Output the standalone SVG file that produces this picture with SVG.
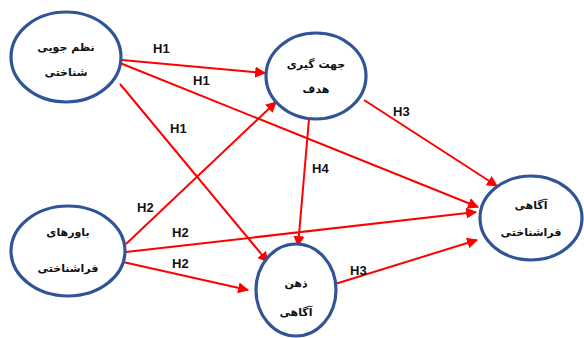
<svg xmlns="http://www.w3.org/2000/svg" width="584" height="338" viewBox="0 0 584 338">
<style>
.node{fill:#fff;stroke:#2f5597;stroke-width:3.2}
.t{font-family:"DejaVu Sans",sans-serif;font-size:11px;font-weight:bold;fill:#111;text-anchor:middle;direction:rtl}
.c{stroke:#ff0000;stroke-width:2;fill:none;marker-end:url(#ah)}
.lb{font-family:"Liberation Sans",Arial,sans-serif;font-size:13px;font-weight:bold;fill:#111}
</style>
<defs>
<marker id="ah" viewBox="0 0 10 10" refX="9" refY="5" markerWidth="5.5" markerHeight="5.5" orient="auto" markerUnits="strokeWidth">
<path d="M0,0 L10,5 L0,10 z" fill="#ff0000"/>
</marker>
</defs>
<rect width="584" height="338" fill="#fff"/>
<g id="connectors">
<line class="c" x1="122" y1="60" x2="265" y2="73"/>
<line class="c" x1="120" y1="63" x2="478" y2="207"/>
<line class="c" x1="120" y1="84" x2="268" y2="262"/>
<line class="c" x1="126" y1="244" x2="276" y2="102"/>
<line class="c" x1="126" y1="252" x2="476" y2="212"/>
<line class="c" x1="123" y1="262" x2="248" y2="290"/>
<line class="c" x1="364" y1="100" x2="497" y2="186"/>
<line class="c" x1="335" y1="284" x2="477" y2="240"/>
<line class="c" x1="309" y1="119" x2="298" y2="246"/>
<text class="lb" x="153" y="53">H1</text>
<text class="lb" x="193" y="85">H1</text>
<text class="lb" x="170" y="133">H1</text>
<text class="lb" x="137" y="212">H2</text>
<text class="lb" x="172" y="237">H2</text>
<text class="lb" x="172" y="268">H2</text>
<text class="lb" x="393" y="116">H3</text>
<text class="lb" x="350" y="275">H3</text>
<text class="lb" x="312" y="173">H4</text>
</g>
<g id="n1">
<ellipse class="node" cx="66" cy="57" rx="55" ry="45"/>
<text class="t" x="66" y="51">نظم جویی</text>
<text class="t" x="66" y="76">شناختی</text>
</g>
<g id="n2">
<ellipse class="node" cx="316" cy="76" rx="50" ry="43"/>
<text class="t" x="316" y="68">جهت گیری</text>
<text class="t" x="316" y="93">هدف</text>
</g>
<g id="n3">
<ellipse class="node" cx="531" cy="218" rx="51" ry="42"/>
<text class="t" x="531" y="209">آگاهی</text>
<text class="t" x="531" y="236">فراشناختی</text>
</g>
<g id="n4">
<ellipse class="node" cx="68" cy="251" rx="57" ry="45"/>
<text class="t" x="68" y="236">باورهای</text>
<text class="t" x="68" y="272">فراشناختی</text>
</g>
<g id="n5">
<ellipse class="node" cx="296" cy="290" rx="40" ry="46"/>
<text class="t" x="296" y="287">ذهن</text>
<text class="t" x="296" y="316">آگاهی</text>
</g>
</svg>
